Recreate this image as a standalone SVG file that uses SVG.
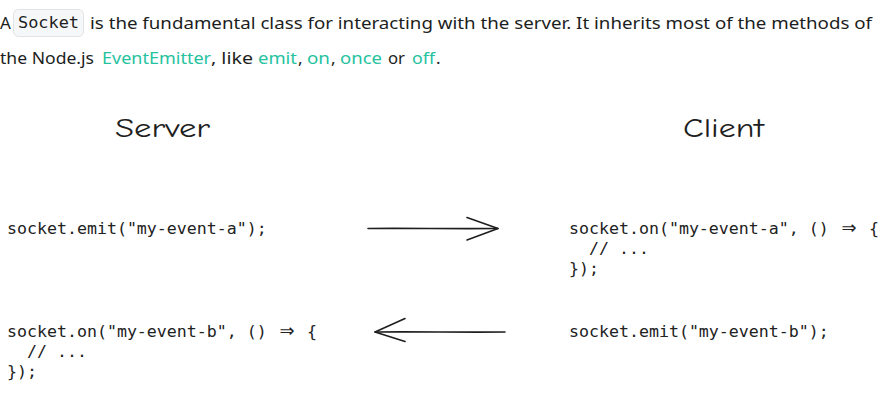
<svg xmlns="http://www.w3.org/2000/svg" width="893" height="403" viewBox="0 0 893 403">
<style>
.p{font-family:"Noto Sans","Open Sans","Liberation Sans",sans-serif;font-size:17px;fill:#1c1e21}
.lk{fill:#25c2a0}
.c{font-family:"DejaVu Sans Mono","Liberation Mono",monospace;font-size:16.6px;fill:#222;white-space:pre}
.ar{font-family:"DejaVu Sans","Liberation Sans",sans-serif;font-size:18px;fill:#222;text-anchor:middle}
.t{font-family:"Comic Neue","Open Sans","Liberation Sans",sans-serif;font-size:27px;fill:#1e1e1e}
.ic{font-family:"DejaVu Sans Mono","Liberation Mono",monospace;font-size:16px;fill:#1c1e21}
.a{fill:none;stroke:#1e1e1e;stroke-width:1.6;stroke-linecap:round;stroke-linejoin:round}
</style>
<rect width="893" height="403" fill="#ffffff"/>
<g id="intro">
  <text class="p" x="0" y="29">A</text>
  <rect x="13.5" y="9.5" width="70" height="27" rx="5" fill="#f6f7f8" stroke="#e3e3e3"/>
  <text class="ic" x="18" y="28" textLength="61" lengthAdjust="spacingAndGlyphs">Socket</text>
  <text class="p" x="90" y="29" textLength="782" lengthAdjust="spacingAndGlyphs">is the fundamental class for interacting with the server. It inherits most of the methods of</text>
  <text class="p" x="0" y="64" textLength="94" lengthAdjust="spacingAndGlyphs">the Node.js</text>
  <text class="p lk" x="102" y="64" textLength="109" lengthAdjust="spacingAndGlyphs">EventEmitter</text>
  <text class="p" x="211" y="64" textLength="42" lengthAdjust="spacingAndGlyphs">, like</text>
  <text class="p lk" x="258" y="64" textLength="39" lengthAdjust="spacingAndGlyphs">emit</text>
  <text class="p" x="298" y="64">,</text>
  <text class="p lk" x="307" y="64" textLength="23" lengthAdjust="spacingAndGlyphs">on</text>
  <text class="p" x="331" y="64">,</text>
  <text class="p lk" x="340" y="64" textLength="42" lengthAdjust="spacingAndGlyphs">once</text>
  <text class="p" x="388" y="64" textLength="17" lengthAdjust="spacingAndGlyphs">or</text>
  <text class="p lk" x="412" y="64" textLength="23" lengthAdjust="spacingAndGlyphs">off</text>
  <text class="p" x="436" y="64">.</text>
</g>
<g id="server-title">
  <text class="t" x="115" y="137" textLength="95" lengthAdjust="spacingAndGlyphs">Server</text>
</g>
<g id="client-title">
  <text class="t" x="683" y="137" textLength="81" lengthAdjust="spacingAndGlyphs">Client</text>
</g>
<g id="server-emit-a">
  <text class="c" x="7" y="234">socket.emit("my-event-a");</text>
</g>
<g id="client-on-a">
  <text class="c" x="569" y="234" xml:space="preserve">socket.on("my-event-a", ()</text>
  <text class="ar" x="849" y="234">⇒</text>
  <text class="c" x="869" y="234">{</text>
  <text class="c" x="569" y="254" xml:space="preserve">  // ...</text>
  <text class="c" x="569" y="274" xml:space="preserve">});</text>
</g>
<g id="server-on-b">
  <text class="c" x="7" y="337" xml:space="preserve">socket.on("my-event-b", ()</text>
  <text class="ar" x="287" y="337">⇒</text>
  <text class="c" x="307" y="337">{</text>
  <text class="c" x="7" y="357" xml:space="preserve">  // ...</text>
  <text class="c" x="7" y="377" xml:space="preserve">});</text>
</g>
<g id="client-emit-b">
  <text class="c" x="569" y="337">socket.emit("my-event-b");</text>
</g>
<g id="connectors">
  <path class="a" d="M368 228.5 C410 228 450 229 498 228.5"/>
  <path class="a" d="M467 217.5 L498 228.5 L467 240"/>
  <path class="a" d="M505 332 C460 332.5 420 331.5 375 332"/>
  <path class="a" d="M405 318.5 L375 332 L405 341.5"/>
</g>
</svg>
